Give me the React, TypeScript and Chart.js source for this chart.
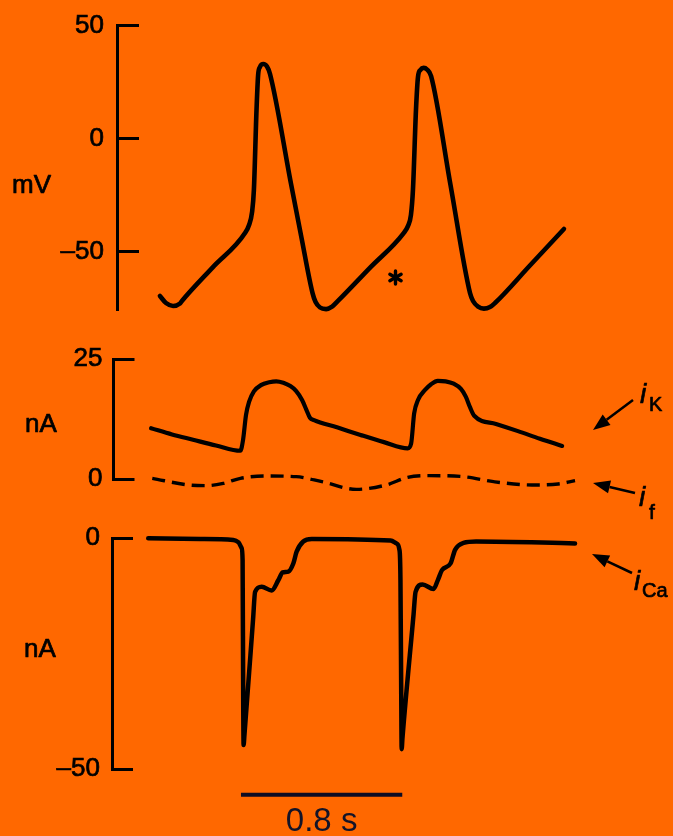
import React, { useEffect, useRef } from 'react';
import { Chart, registerables } from 'chart.js';

Chart.register(...registerables);

const W = 673;
const H = 836;
const BG = '#ff6800';
const INK = '#000000';
const NAVY = '#0d0d24';
const FONT = '"Liberation Sans", Arial, Helvetica, sans-serif';

// ---------- data (time in s, values in mV / nA) ----------
const vTime = [0.213, 0.243, 0.278, 0.3125, 0.322, 0.476, 0.635, 0.655, 0.670, 0.679, 0.692, 0.700, 0.709, 0.726, 0.744, 0.759, 0.863, 0.915, 0.970, 0.985, 1.007, 1.037, 1.067, 1.096, 1.258, 1.421, 1.443, 1.458, 1.468, 1.483, 1.493, 1.505, 1.521, 1.538, 1.558, 1.654, 1.751, 1.766, 1.791, 1.820, 1.850, 1.875, 2.046, 2.217];
const vValues = [-69.8, -72.9, -74.2, -73.1, -72, -57, -41.9, -38.3, -32.6, -22.8, 12.6, 28.1, 31.7, 33, 31.9, 28.6, -20, -43.9, -68.5, -72.5, -74.9, -75.6, -74.5, -72, -57, -42, -38.8, -33.9, -22.8, 12.6, 27.3, 30.4, 31.3, 30.6, 27.7, -20.4, -68.5, -72, -74.5, -75.4, -74.7, -72.9, -56.5, -40.1];

const ikTime = [0.169, 0.273, 0.377, 0.491, 0.612, 0.625, 0.640, 0.655, 0.679, 0.714, 0.755, 0.790, 0.825, 0.860, 0.888, 0.918, 0.940, 0.957, 0.977, 1.091, 1.208, 1.324, 1.442, 1.459, 1.474, 1.493, 1.528, 1.558, 1.591, 1.630, 1.670, 1.706, 1.730, 1.751, 1.772, 1.880, 1.989, 2.098, 2.208];
const ikValues = [10.6, 9.3, 8.2, 7.0, 5.9, 8.1, 13.4, 16.1, 18.3, 19.6, 20.2, 20.4, 20.1, 19.4, 18.4, 16.5, 14.4, 12.8, 12.3, 10.8, 9.2, 7.7, 6.4, 7.4, 13.7, 16.5, 18.6, 19.8, 20.5, 20.4, 19.9, 18.8, 17.2, 15, 13.2, 11.5, 10.0, 8.4, 6.9];

const ifTime = [0.175, 0.356, 0.441, 0.527, 0.612, 0.740, 0.889, 1.016, 1.187, 1.335, 1.442, 1.549, 1.719, 1.868, 2.059, 2.188, 2.272];
const ifValues = [0.14, -1.25, -1.39, -0.9, 0.14, 0.63, 0.49, -0.56, -2.16, -1.25, 0.35, 0.7, 0.49, -0.56, -1.25, -1.04, -0.35];

const icaTime = [0.155, 0.412, 0.577, 0.603, 0.618, 0.623, 0.626, 0.628, 0.632, 0.675, 0.685, 0.718, 0.767, 0.800, 0.822, 0.850, 0.875, 0.891, 0.924, 0.966, 1.357, 1.386, 1.401, 1.406, 1.410, 1.412, 1.416, 1.471, 1.481, 1.516, 1.570, 1.592, 1.612, 1.655, 1.677, 1.719, 1.781, 2.272];
const icaValues = [0, -0.15, -0.35, -0.9, -2.1, -4.7, -35, -44.8, -42.7, -17.5, -11.6, -10.5, -11.3, -9.1, -7.4, -7.2, -5.4, -2.9, -0.7, -0.15, -0.5, -1.1, -2.5, -9, -35, -45.7, -43.3, -16.5, -11.6, -10, -11, -9, -6.9, -5.4, -2.5, -1, -0.7, -1.1];

const scaleBarTime = [0.615, 1.415];
const scaleBarLevel = -55.6;
const scaleBarLabel = '0.8 s';

const mvTicks = [50, 0, -50];
const ikTicks = [25, 0];
const icaTicks = [0, -50];

// ---------- layout helpers ----------
const PX_PER_S = 201.6;
const X_REF = 117; // pixel of t = 0
const X_RIGHT = 600;

const pts = (xs: number[], ys: number[]) => xs.map((x, i) => ({ x, y: ys[i] }));
const fmt = (v: number) => (v < 0 ? '\u2013' + Math.abs(v) : String(v));

function arrow(ctx: CanvasRenderingContext2D, x1: number, y1: number, x2: number, y2: number) {
  const a = Math.atan2(y2 - y1, x2 - x1);
  const hl = 17;
  const hw = 6.5;
  const bx = x2 - hl * Math.cos(a);
  const by = y2 - hl * Math.sin(a);
  ctx.save();
  ctx.strokeStyle = INK;
  ctx.fillStyle = INK;
  ctx.lineWidth = 2.5;
  ctx.beginPath();
  ctx.moveTo(x1, y1);
  ctx.lineTo(bx, by);
  ctx.stroke();
  ctx.beginPath();
  ctx.moveTo(x2, y2);
  ctx.lineTo(bx + hw * Math.sin(a), by - hw * Math.cos(a));
  ctx.lineTo(bx - hw * Math.sin(a), by + hw * Math.cos(a));
  ctx.closePath();
  ctx.fill();
  ctx.restore();
}

function text(ctx: CanvasRenderingContext2D, s: string, x: number, y: number, size: number, opts: { italic?: boolean; color?: string; align?: CanvasTextAlign; stroke?: number } = {}) {
  ctx.save();
  ctx.font = `${opts.italic ? 'italic ' : ''}${size}px ${FONT}`;
  ctx.fillStyle = opts.color || INK;
  ctx.strokeStyle = opts.color || INK;
  ctx.textAlign = opts.align || 'left';
  ctx.textBaseline = 'alphabetic';
  ctx.fillText(s, x, y);
  const sw = opts.stroke === undefined ? 0.7 : opts.stroke;
  if (sw > 0) {
    ctx.lineWidth = sw;
    ctx.lineJoin = 'round';
    ctx.strokeText(s, x, y);
  }
  ctx.restore();
}

type Panel = {
  axisX: number;
  top: number;
  bottom: number;
  yMin: number;
  yMax: number;
  ticks: number[];
  tickLen: number;
  labelPad: number;
  datasets: any[];
  draw: (ctx: CanvasRenderingContext2D, chart: any) => void;
};

const lineDs = (data: any[], width: number, extra: any = {}) => ({
  data,
  borderColor: INK,
  borderWidth: width,
  pointRadius: 0,
  fill: false,
  cubicInterpolationMode: 'monotone',
  borderJoinStyle: 'round',
  borderCapStyle: 'round',
  clip: false,
  ...extra,
});

function makeChart(canvas: HTMLCanvasElement, p: Panel) {
  const xMin = (p.axisX - X_REF) / PX_PER_S;
  const xMax = (X_RIGHT - X_REF) / PX_PER_S;
  return new Chart(canvas, {
    type: 'line',
    data: { datasets: p.datasets },
    options: {
      animation: false,
      responsive: false,
      devicePixelRatio: 1,
      events: [],
      layout: { padding: { left: 0, right: W - X_RIGHT, top: p.top, bottom: H - p.bottom } },
      plugins: { legend: { display: false }, tooltip: { enabled: false } },
      scales: {
        x: { type: 'linear', display: false, min: xMin, max: xMax },
        y: {
          type: 'linear',
          position: 'left',
          min: p.yMin,
          max: p.yMax,
          afterFit: (s: any) => {
            s.width = p.axisX;
            s.paddingTop = 0;
            s.paddingBottom = 0;
          },
          afterBuildTicks: (s: any) => {
            s.ticks = p.ticks.map((v) => ({ value: v }));
          },
          border: { display: true, color: INK, width: 3 },
          grid: { drawOnChartArea: false, drawTicks: true, tickLength: -p.tickLen, color: INK, lineWidth: 3 },
          ticks: {
            color: INK,
            padding: p.labelPad,
            font: { family: FONT, size: 26 },
            textStrokeColor: INK,
            textStrokeWidth: 0.7,
            callback: (v: any) => fmt(Number(v)),
          },
        },
      },
    } as any,
    plugins: [
      {
        id: 'annot',
        afterDraw: (chart: any) => p.draw(chart.ctx, chart),
      },
    ],
  });
}

const panelV: Panel = {
  axisX: 117,
  top: 25.7,
  bottom: 310,
  yMin: -76,
  yMax: 50,
  ticks: mvTicks,
  tickLen: 22,
  labelPad: 35,
  datasets: [lineDs(pts(vTime, vValues), 4.6)],
  draw: (ctx) => {
    text(ctx, 'mV', 12, 193, 26);
    // asterisk
    ctx.save();
    ctx.strokeStyle = INK;
    ctx.lineWidth = 3.4;
    ctx.lineCap = 'round';
    const cx = 395.5, cy = 277.5, r = 6.5;
    for (let k = 0; k < 3; k++) {
      const a = Math.PI / 2 + (k * Math.PI) / 3;
      ctx.beginPath();
      ctx.moveTo(cx - r * Math.cos(a), cy - r * Math.sin(a));
      ctx.lineTo(cx + r * Math.cos(a), cy + r * Math.sin(a));
      ctx.stroke();
    }
    ctx.restore();
  },
};

const panelK: Panel = {
  axisX: 113.5,
  top: 359.3,
  bottom: 479,
  yMin: 0,
  yMax: 25,
  ticks: ikTicks,
  tickLen: 21,
  labelPad: 32,
  datasets: [
    lineDs(pts(ikTime, ikValues), 4.2),
    lineDs(pts(ifTime, ifValues), 3.4, { borderDash: [13, 7], borderCapStyle: 'butt' }),
  ],
  draw: (ctx) => {
    text(ctx, 'nA', 25, 432, 26);
    // i_K
    arrow(ctx, 633, 400, 593, 430);
    text(ctx, 'i', 640, 403, 28, { italic: true });
    text(ctx, 'K', 649, 411, 20);
    // i_f
    arrow(ctx, 635, 493, 593, 483);
    text(ctx, 'i', 639, 506, 28, { italic: true });
    text(ctx, 'f', 649, 519, 21);
  },
};

const panelCa: Panel = {
  axisX: 112.5,
  top: 538.3,
  bottom: 769,
  yMin: -50,
  yMax: 0,
  ticks: icaTicks,
  tickLen: 20.5,
  labelPad: 33,
  datasets: [
    lineDs(pts(icaTime, icaValues), 4.5),
    lineDs(
      scaleBarTime.map((t) => ({ x: t, y: scaleBarLevel })),
      4,
      { borderColor: NAVY, cubicInterpolationMode: 'default', tension: 0, borderCapStyle: 'butt' }
    ),
  ],
  draw: (ctx, chart) => {
    text(ctx, 'nA', 24, 657, 26);
    arrow(ctx, 632, 573, 592, 554);
    text(ctx, 'i', 634, 590, 28, { italic: true });
    text(ctx, 'Ca', 642, 597, 20);
    const xs = chart.scales.x;
    const mid = xs.getPixelForValue((scaleBarTime[0] + scaleBarTime[1]) / 2);
    text(ctx, scaleBarLabel, mid, 831, 33, { color: '#141428', align: 'center', stroke: 0 });
  },
};

export default function App() {
  const aRef = useRef<HTMLCanvasElement>(null);
  const bRef = useRef<HTMLCanvasElement>(null);
  const cRef = useRef<HTMLCanvasElement>(null);

  useEffect(() => {
    document.body.style.margin = '0';
    document.body.style.background = BG;
    const charts = [
      makeChart(aRef.current!, panelV),
      makeChart(bRef.current!, panelK),
      makeChart(cRef.current!, panelCa),
    ];
    return () => charts.forEach((c) => c.destroy());
  }, []);

  const cs: React.CSSProperties = { position: 'absolute', left: 0, top: 0, width: W, height: H };
  return (
    <div style={{ position: 'absolute', left: 0, top: 0, width: W, height: H, background: BG, overflow: 'hidden' }}>
      <canvas ref={aRef} width={W} height={H} style={cs} />
      <canvas ref={bRef} width={W} height={H} style={cs} />
      <canvas ref={cRef} width={W} height={H} style={cs} />
    </div>
  );
}
